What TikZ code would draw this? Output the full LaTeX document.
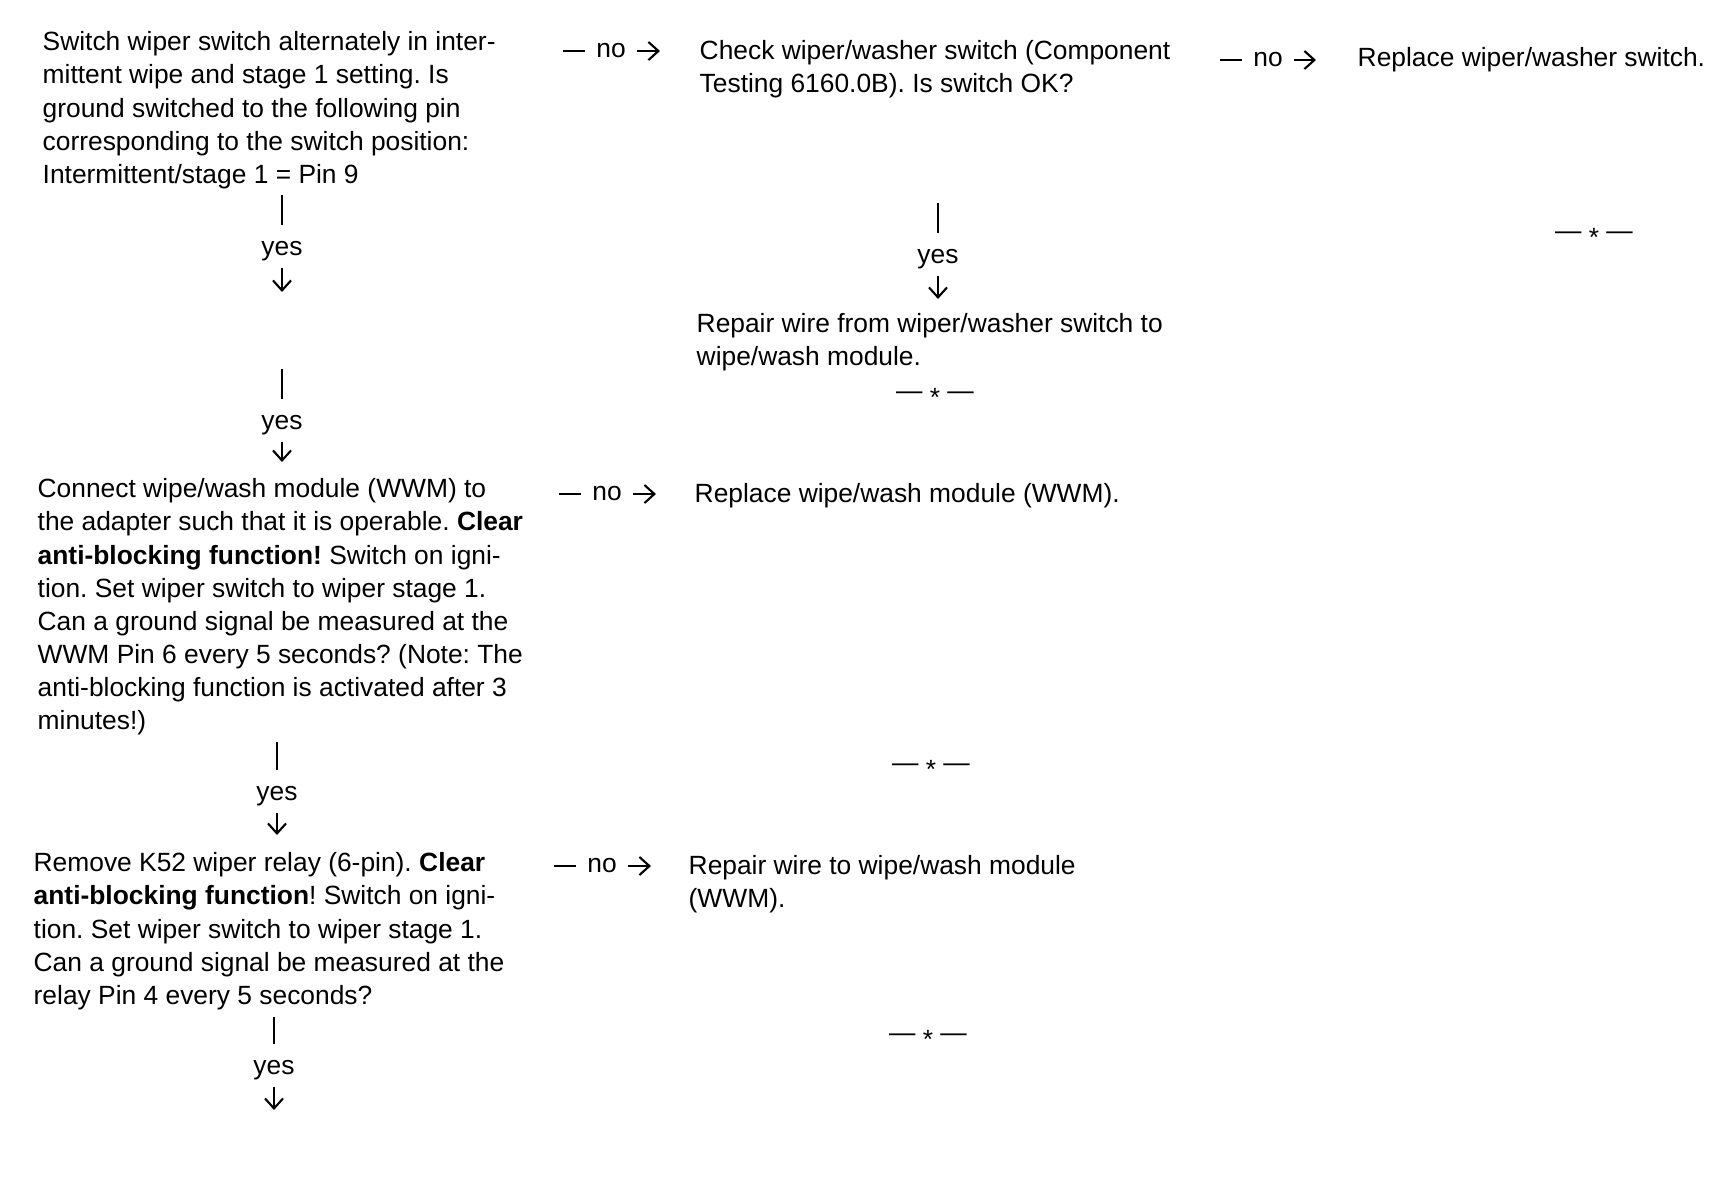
\documentclass[tikz,border=0pt]{standalone}
\usepackage{fontspec}
\setmainfont{Liberation Sans}
\usetikzlibrary{arrows.meta,positioning}
\newcommand{\flowfont}{\fontsize{7.5}{9.42}\selectfont}
\frenchspacing
\tikzset{
  textblock/.style={anchor=north west,align=left,inner sep=0pt,font=\flowfont},
  endmark/.style={inner sep=0pt,font=\flowfont},
  stem/.style={line width=0.65pt},
  stub/.style={line width=0.6pt},
  tip/.style={-{Straight Barb[length=1mm,width=1.8mm]},line width=0.6pt}
}

\begin{document}
\begin{tikzpicture}[x=0.01cm,y=-0.01cm,
    yeslbl/.style={font=\flowfont,inner xsep=0pt,inner ysep=4.3pt},
    nolbl/.style={font=\flowfont,inner xsep=3pt,inner ysep=0pt}
  ]
  \useasboundingbox (0,0) rectangle (1718,1184);
  % left column: questions
  \node[textblock] (q1) at (42,31) {Switch wiper switch alternately in inter-\\
    mittent wipe and stage 1 setting. Is\\
    ground switched to the following pin\\
    corresponding to the switch position:\\
    Intermittent/stage 1 = Pin 9};
  \node[textblock] (q2) at (37,478) {Connect wipe/wash module (WWM) to\\
    the adapter such that it is operable. \textbf{Clear}\\
    \textbf{anti-blocking function!} Switch on igni-\\
    tion. Set wiper switch to wiper stage 1.\\
    Can a ground signal be measured at the\\
    WWM Pin 6 every 5 seconds? (Note: The\\
    anti-blocking function is activated after 3\\
    minutes!)};
  \node[textblock] (q3) at (33,852) {Remove K52 wiper relay (6-pin). \textbf{Clear}\\
    \textbf{anti-blocking function}! Switch on igni-\\
    tion. Set wiper switch to wiper stage 1.\\
    Can a ground signal be measured at the\\
    relay Pin 4 every 5 seconds?};
  % middle and right columns
  \node[textblock] (chk) at (699,40) {Check wiper/washer switch (Component\\
    Testing 6160.0B). Is switch OK?};
  \node[textblock] (swrep) at (1357,47) {Replace wiper/washer switch.};
  \node[textblock] (rep1) at (696,313) {Repair wire from wiper/washer switch to\\
    wipe/wash module.};
  \node[textblock] (wwmrep) at (694,483) {Replace wipe/wash module (WWM).};
  \node[textblock] (rep2) at (688,855) {Repair wire to wipe/wash module\\
    (WWM).};
  % end marks
  \node[endmark] (end1) at (1594,237) {— \raisebox{-0.25em}{*} —};
  \node[endmark] (end2) at (935,397) {— \raisebox{-0.25em}{*} —};
  \node[endmark] (end3) at (931,769) {— \raisebox{-0.25em}{*} —};
  \node[endmark] (end4) at (928,1039) {— \raisebox{-0.25em}{*} —};

  % no branches
  \node[nolbl] (no1) at (611,51) {no};
  \node[nolbl] (no2) at (1268,60) {no};
  \node[nolbl] (no3) at (607,494) {no};
  \node[nolbl] (no4) at (602,866) {no};
  \coordinate (na1) at (563,51);   \coordinate (nb1) at (660,51);
  \coordinate (na2) at (1220,60);  \coordinate (nb2) at (1316,60);
  \coordinate (na3) at (559,494);  \coordinate (nb3) at (656,494);
  \coordinate (na4) at (554,866);  \coordinate (nb4) at (651,866);

  % yes branches
  \node[yeslbl] (yes1) at (282,251) {yes};
  \node[yeslbl] (yes2) at (938,259) {yes};
  \node[yeslbl] (yes3) at (282,425) {yes};
  \node[yeslbl] (yes4) at (277,796) {yes};
  \node[yeslbl] (yes5) at (274,1070) {yes};
  \coordinate (ya1) at (282,195);  \coordinate (yb1) at (282,292);
  \coordinate (ya2) at (938,203);  \coordinate (yb2) at (938,299);
  \coordinate (ya3) at (282,369);  \coordinate (yb3) at (282,462);
  \coordinate (ya4) at (277,742);  \coordinate (yb4) at (277,835);
  \coordinate (ya5) at (274,1017); \coordinate (yb5) at (274,1110);

  \foreach \i in {1,...,4} {
    \draw[stub] (na\i) -- (no\i);
    \draw[tip] (no\i) -- (nb\i);
  }
  \foreach \i in {1,...,5} {
    \draw[stem] (ya\i) -- (yes\i);
    \draw[tip,shorten <=-2.5pt] (yes\i) -- (yb\i);
  }
\end{tikzpicture}
\end{document}
